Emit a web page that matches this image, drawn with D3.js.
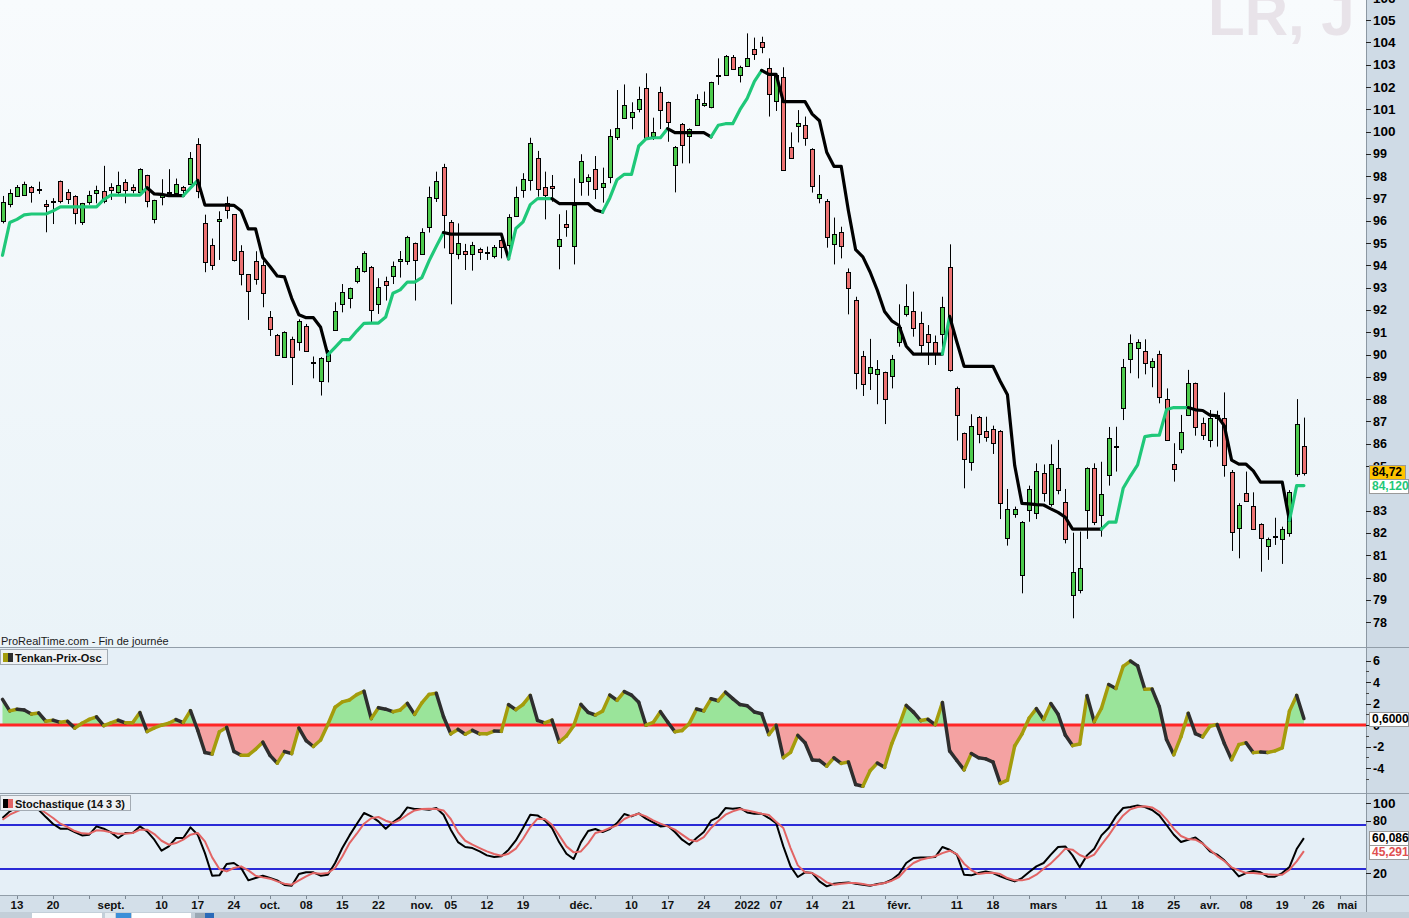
<!DOCTYPE html>
<html>
<head>
<meta charset="utf-8">
<script src="https://cdn.jsdelivr.net/npm/d3@7"></script>
<style>
  body { margin: 0; background: #cfdbe6; }
  svg { display: block; font-family: Arial, "Liberation Sans", sans-serif; }
</style>
</head>
<body>
<svg id="chart" width="1409" height="918"></svg>
<script>
// LR daily, 11 Aug 2021 -> 22 Apr 2022 (one value per trading day)
const openP = [95.99,96.75,97.11,97.14,97.53,97.40,96.75,96.86,97.77,97.29,
  97.11,95.93,96.83,97.23,97.35,97.50,97.26,97.72,97.50,97.27,
  98.04,96.06,97.05,97.26,97.23,97.50,97.63,99.43,95.88,94.90,
  95.97,96.81,96.29,94.66,93.60,94.18,94.02,91.67,90.86,89.91,
  90.68,90.55,91.30,89.63,88.81,89.71,91.10,92.30,92.57,93.30,
  93.73,93.94,92.27,93.31,93.54,94.20,94.20,94.99,94.54,95.70,
  97.05,98.40,95.96,94.51,94.66,94.49,94.73,94.56,94.42,95.14,
  94.91,96.21,97.38,97.83,98.83,97.53,97.54,94.87,95.87,94.87,
  97.75,97.75,98.30,97.50,97.98,99.72,100.59,100.64,100.99,101.94,
  99.77,101.76,101.31,98.53,100.35,99.80,100.29,101.16,101.08,102.52,
  102.56,103.36,102.53,102.94,103.68,104.03,102.83,101.38,102.46,99.29,
  100.22,100.29,99.20,97.00,96.88,94.94,95.51,93.71,92.44,89.93,
  89.19,89.11,89.20,89.04,90.53,91.82,91.97,91.40,90.92,90.58,
  90.90,93.91,88.48,86.47,85.20,87.18,86.58,86.64,86.58,81.76,
  82.83,80.11,83.00,82.92,84.67,83.28,84.90,83.40,79.21,79.44,
  83.00,84.90,82.80,84.60,85.86,87.59,89.78,90.28,90.17,89.43,
  90.01,87.99,85.07,85.76,87.26,88.71,86.91,86.17,87.17,87.17,
  84.72,82.21,83.77,83.22,82.39,81.41,81.85,81.73,82.03,84.63,
  85.91];

const highP = [97.11,97.41,97.60,97.75,97.56,97.75,96.93,97.01,97.80,97.41,
  97.14,96.80,97.34,97.57,98.46,97.68,98.20,97.86,97.63,98.35,
  98.06,96.94,97.86,98.31,97.89,97.56,99.08,99.70,96.27,95.20,
  96.42,97.08,96.30,94.90,93.61,94.63,94.21,91.95,90.92,91.04,
  90.80,91.58,91.37,89.91,89.88,90.20,92.34,93.16,93.00,93.97,
  94.63,93.97,93.42,93.49,94.17,94.64,95.32,95.02,95.66,97.53,
  98.20,98.55,96.03,95.88,94.96,95.05,94.79,94.84,94.91,95.21,
  96.29,97.53,98.13,99.72,99.13,98.20,98.05,96.29,96.47,97.90,
  98.98,98.08,98.90,98.38,100.10,101.86,102.11,101.31,102.01,102.61,
  100.62,102.01,101.34,99.35,100.38,100.14,101.67,101.79,102.23,103.28,
  103.43,103.43,102.95,104.40,104.21,104.25,103.28,102.58,102.88,99.96,
  100.96,100.67,99.25,98.05,96.97,96.14,95.73,93.86,92.59,90.16,
  90.70,89.75,89.23,89.98,92.25,93.15,92.82,91.92,91.32,90.85,
  92.59,94.94,88.56,86.50,87.32,87.24,87.21,86.81,86.61,83.97,
  83.18,82.53,84.12,85.12,85.07,85.97,86.17,83.97,82.01,82.06,
  84.94,85.12,85.19,86.75,86.76,89.80,90.90,90.68,90.68,89.83,
  90.17,88.48,86.02,87.29,89.31,88.74,87.17,87.51,87.48,88.30,
  84.82,83.33,84.75,83.82,82.43,81.79,82.68,82.28,83.92,88.00,
  87.17];

const lowP = [95.88,96.60,97.08,97.11,96.81,97.20,95.48,95.85,96.78,96.75,
  95.84,95.81,96.72,96.78,96.78,96.93,97.20,96.78,97.23,97.23,
  96.60,95.88,96.69,97.20,97.11,97.11,97.60,97.01,93.69,93.79,
  94.24,96.09,94.17,93.10,91.55,93.13,92.12,90.83,89.94,89.85,
  88.63,90.17,90.17,88.93,88.16,88.75,91.07,91.89,92.07,93.19,
  93.67,91.37,91.82,92.42,93.16,93.45,94.02,92.42,94.51,95.47,
  96.84,94.76,92.25,94.27,93.79,93.76,94.24,94.24,94.31,94.31,
  94.31,96.18,97.03,97.35,97.08,96.06,96.85,93.82,95.28,94.04,
  97.12,97.12,96.97,96.81,97.68,99.62,100.56,100.10,100.86,99.62,
  99.62,100.11,99.54,97.27,98.57,98.57,100.25,101.11,101.04,102.09,
  102.50,102.76,102.20,102.91,103.21,103.51,100.67,100.92,98.27,98.77,
  99.51,99.36,97.26,96.78,94.79,94.04,94.31,91.80,88.44,88.14,
  88.41,87.77,86.88,88.48,90.35,91.70,90.80,90.05,89.53,89.53,
  90.28,89.23,86.14,84.00,84.79,86.02,86.09,85.54,82.62,81.43,
  82.68,79.29,82.50,82.62,83.40,83.18,83.73,81.53,78.17,79.29,
  81.73,82.35,81.83,84.12,84.75,87.06,89.16,88.93,89.11,88.53,
  87.81,86.14,84.30,85.57,87.24,86.36,86.17,85.84,85.87,84.52,
  81.19,80.86,83.40,82.17,80.26,80.79,81.46,80.61,81.83,84.52,
  84.57];

const closeP = [96.83,97.23,97.53,97.65,97.32,97.42,96.65,96.88,96.87,96.96,
  96.33,96.78,97.14,97.38,96.90,97.35,97.59,97.35,97.35,98.31,
  96.87,96.93,97.16,97.28,97.63,97.35,98.80,97.32,94.14,94.00,
  96.06,96.48,94.24,93.64,92.82,93.37,92.75,91.13,89.97,91.01,
  89.86,91.49,90.20,89.65,89.83,90.03,91.97,92.82,93.00,93.87,
  94.54,92.00,93.02,93.15,93.99,94.29,95.26,94.24,95.51,97.05,
  97.80,96.24,94.58,94.99,94.54,94.90,94.58,94.58,94.84,94.81,
  96.18,97.08,97.86,99.47,97.42,97.18,97.45,95.17,95.75,96.70,
  98.68,97.94,97.41,97.68,99.80,100.14,101.19,100.86,101.46,99.65,
  99.96,100.96,100.41,99.32,99.43,100.10,101.44,101.26,102.20,102.54,
  103.40,102.80,102.88,103.28,103.46,103.79,101.67,102.53,98.30,98.80,
  100.37,99.69,97.53,97.18,95.25,95.39,94.87,93.01,89.16,88.68,
  89.45,89.34,87.99,89.78,91.22,92.19,91.22,90.43,90.55,90.05,
  92.12,89.30,87.26,85.30,86.81,86.42,86.32,86.02,83.37,83.06,
  83.07,82.47,83.95,84.79,83.77,85.07,83.92,81.76,80.26,80.41,
  84.90,82.47,83.73,86.24,85.88,89.45,90.50,90.55,89.65,89.71,
  88.08,86.17,84.85,86.54,88.71,86.72,86.39,87.17,87.29,85.07,
  82.03,83.25,83.43,82.21,81.76,81.73,81.87,82.16,83.85,86.87,
  84.72];

const tenkan = [94.45,95.92,96.06,96.26,96.30,96.30,96.30,96.44,96.62,96.62,
  96.62,96.62,96.62,96.62,96.95,97.15,97.15,97.15,97.15,97.15,
  97.48,97.20,97.18,97.12,97.12,97.12,97.47,97.81,96.70,96.70,
  96.70,96.70,96.69,96.45,95.63,95.63,94.35,93.95,93.52,93.48,
  92.52,91.78,91.65,91.65,91.22,89.98,90.32,90.67,90.67,91.05,
  91.40,91.41,91.41,91.68,92.75,92.90,93.25,93.25,93.45,94.20,
  94.85,95.47,95.40,95.40,95.40,95.40,95.40,95.40,95.40,95.40,
  94.29,95.65,95.95,96.72,96.99,96.99,96.99,96.77,96.77,96.77,
  96.77,96.77,96.48,96.39,97.02,97.84,98.08,98.08,99.35,99.67,
  99.72,99.72,100.13,99.95,99.95,99.95,99.95,99.95,99.76,100.28,
  100.35,100.35,100.98,101.49,102.25,102.74,102.56,102.56,101.34,101.34,
  101.34,101.34,100.78,100.48,99.07,98.44,98.44,96.45,94.70,94.38,
  93.70,92.88,91.93,91.51,91.30,90.37,90.02,90.02,90.02,90.02,
  90.02,91.71,90.56,89.47,89.47,89.47,89.47,89.47,88.80,88.19,
  85.02,83.32,83.30,83.27,83.25,83.08,82.92,82.70,82.17,82.17,
  82.17,82.17,82.17,82.48,82.48,84.00,84.55,85.05,86.32,86.37,
  86.38,87.53,87.62,87.62,87.62,87.52,87.49,87.28,87.25,86.80,
  85.26,85.08,85.08,84.78,84.28,84.28,84.28,84.28,82.56,84.12,
  84.12];

const stochK = [82.9,90.5,95,97,97,92.4,84.0,76.1,70.8,70.8,
  67.0,63.2,64.0,73.4,70.8,66.6,60.2,65.9,65.9,73.4,
  67.8,58.3,45.8,50.7,60.2,60.2,72.3,64.0,43.1,17.4,
  17.8,30.6,31.8,26.1,12.1,14.7,17.4,14.7,12.1,6.8,
  6.0,19.3,21.2,21.2,17.4,18.5,31.8,48.8,63.2,76.1,
  88.6,84.8,79.1,70.8,78.0,84.0,95.0,93.1,93.1,92.4,
  94.3,86.7,69.7,55.6,50.0,48.8,45.0,40.5,38.6,39.4,
  46.9,57.5,71.6,86.7,85.9,80.3,71.6,55.3,42.4,36.3,
  55.3,68.1,70.4,67.0,70.4,77.2,87.5,84.8,88.2,82.2,
  78.0,73.4,74.2,67.0,58.3,52.6,60.2,67.0,79.9,84.0,
  94.3,93.5,94.3,89.3,87.8,87.8,82.9,77.2,50.7,28.0,
  15.9,21.2,20.4,10.9,5.3,8.3,9.1,9.8,8.3,7.2,
  6.0,7.9,9.1,12.8,19.3,31.8,37.5,38.2,38.2,38.5,
  50.0,46.9,41.3,18.5,17.8,20.4,22.3,20.4,16.6,13.6,
  10.9,14.7,21.6,28.0,31.8,41.3,50.0,50.7,40.5,26.9,
  40.5,48.1,63.2,71.6,84.8,94.3,95.4,97.3,95.4,92.0,
  86.0,75.0,63.9,55.6,58.3,60.9,54.1,45.0,41.3,34.8,
  26.1,16.6,20.4,22.7,21.2,16.3,16.3,20.4,27.2,47.7,
  60.086];

const stochD = [81.0,86.7,90.5,94,96,94,88.6,83.0,76.5,72.7,
  68.1,65.5,65.1,68.9,68.5,66.6,65.1,65.1,65.9,69.7,
  69.7,64.7,57.1,52.6,54.5,58.3,64.0,65.9,56.4,38.2,
  25.0,22.3,26.1,28.0,23.4,17.4,15.5,14.0,10.9,8.3,
  7.2,12.1,16.6,20.5,19.7,20.5,26.1,39.3,54.5,65.1,
  76.5,82.6,84.1,79.9,77.2,81.0,86.7,91.6,93.1,93.5,
  93.1,91.6,81.8,67.0,57.1,52.6,48.8,45.0,42.0,40.1,
  42.4,48.1,59.4,72.7,82.2,81.8,75.3,63.2,50.7,43.9,
  45.0,54.1,65.9,68.1,71.6,74.6,81.8,85.6,87.8,84.8,
  80.3,76.5,73.4,69.7,64.0,58.3,56.4,61.3,71.6,79.5,
  86.7,90.5,93.1,91.6,89.7,87.8,86.3,78.7,71.6,48.8,
  29.1,21.2,20.4,15.9,9.8,7.2,8.3,9.1,9.1,7.9,
  6.4,7.5,9.1,11.7,15.9,25.0,31.8,35.5,37.6,39.5,
  43.0,45.8,42.0,31.0,23.8,19.3,20.4,20.8,19.3,14.7,
  12.1,12.1,14.0,18.5,25.3,31.4,39.4,48.1,47.0,40.9,
  37.5,41.3,52.6,63.2,75.3,85.9,92.8,95.4,96.2,95.0,
  90.0,81.4,70.8,62.5,59.0,58.3,53.7,46.9,39.7,34.1,
  26.9,23.4,20.4,20.4,19.7,18.9,18.5,18.5,24.2,33.7,
  45.291];

// calendar: first trading day and market holidays
const firstDay = "2021-08-11";
const holidays = ["2022-04-15", "2022-04-18"];

const xTicks = [["2021-08-13","13"],["2021-08-20","20"],["2021-09-01","sept."],["2021-09-10","10"],
  ["2021-09-17","17"],["2021-09-24","24"],["2021-10-01","oct."],["2021-10-08","08"],["2021-10-15","15"],
  ["2021-10-22","22"],["2021-11-01","nov."],["2021-11-05","05"],["2021-11-12","12"],["2021-11-19","19"],
  ["2021-12-01","déc."],["2021-12-10","10"],["2021-12-17","17"],["2021-12-24","24"],["2022-01-03","2022"],
  ["2022-01-07","07"],["2022-01-14","14"],["2022-01-21","21"],["2022-02-01","févr."],["2022-02-11","11"],
  ["2022-02-18","18"],["2022-03-01","mars"],["2022-03-11","11"],["2022-03-18","18"],["2022-03-25","25"],
  ["2022-04-01","avr."],["2022-04-08","08"],["2022-04-19","19"],["2022-04-26","26"],["2022-05-02","mai"]];

// 84 sits under the last-value boxes in the original, so it is not printed
const priceTicks = [78,79,80,81,82,83,85,86,87,88,89,90,91,92,93,94,95,96,97,98,99,100,101,102,103,104,105,106];
const oscTicks = [-4,-2,0,2,4,6];
const oscMinor = [-5,-3,-1,1,3,5];
const stochTicks = [20,80,100];
const stochLevels = [25,75];

const lastClose = "84,72", lastTenkan = "84,120", lastOsc = "0,6000";
const lastK = "60,086", lastD = "45,291";

/////////////////////////

const parse = d3.timeParse("%Y-%m-%d");
const fmt = d3.timeFormat("%Y-%m-%d");

// trading days (weekdays minus holidays), a bit past the last bar for the axis
const dates = [];
for (let d = parse(firstDay); dates.length < 192; d = d3.timeDay.offset(d, 1)) {
  const wd = d.getDay();
  if (wd === 0 || wd === 6 || holidays.includes(fmt(d))) continue;
  dates.push(fmt(d));
}

const n = closeP.length;
const idx = d3.range(n);
const osc = idx.map(i => closeP[i] - tenkan[i]);

const PR = 1366;                 // right edge of the plotting area
const price = { top: 0, bottom: 647 };
const oscP = { top: 648, bottom: 793 };
const sto = { top: 794, bottom: 895 };

const x = d3.scaleLinear().domain([0, 180]).range([2.5, 1303.9]);
const yP = d3.scaleLinear().domain([78, 105]).range([622.1, 20]);
const yO = d3.scaleLinear().domain([-4, 6]).range([768, 660.5]);
const yS = d3.scaleLinear().domain([0, 100]).range([891, 803]);

const svg = d3.select("#chart");
const defs = svg.append("defs");

const grad = defs.append("linearGradient").attr("id", "pbg")
  .attr("x1", 0).attr("y1", 0).attr("x2", 0).attr("y2", 1);
grad.append("stop").attr("offset", "0%").attr("stop-color", "#f8fbfd");
grad.append("stop").attr("offset", "100%").attr("stop-color", "#eaf3f8");

function addClip(id, y0, y1) {
  defs.append("clipPath").attr("id", id)
    .append("rect").attr("x", 0).attr("y", y0).attr("width", PR).attr("height", y1 - y0);
}
addClip("clipPrice", price.top, price.bottom);
addClip("clipOsc", oscP.top, oscP.bottom);
addClip("clipSto", sto.top, sto.bottom);
addClip("clipOscPos", oscP.top, yO(0));
addClip("clipOscNeg", yO(0), oscP.bottom);

// backgrounds
svg.append("rect").attr("width", 1409).attr("height", 918).attr("fill", "#cfdbe6");
svg.append("rect").attr("x", 0).attr("y", price.top).attr("width", PR).attr("height", price.bottom - price.top).attr("fill", "url(#pbg)");
svg.append("rect").attr("x", 0).attr("y", oscP.top).attr("width", PR).attr("height", oscP.bottom - oscP.top).attr("fill", "#e5eff7");
svg.append("rect").attr("x", 0).attr("y", sto.top).attr("width", PR).attr("height", sto.bottom - sto.top).attr("fill", "#e5eff7");
svg.append("rect").attr("x", 0).attr("y", 896).attr("width", 1409).attr("height", 16).attr("fill", "#d3dfe9");
svg.append("rect").attr("x", 0).attr("y", 912).attr("width", 1409).attr("height", 6).attr("fill", "#c3cfd9");
[[32, 70, "#ffffff"], [105, 10, "#e8eef2"], [116, 15, "#3c8fd8"], [132, 59, "#ffffff"], [195, 10, "#9aa8b4"], [205, 9, "#2a6ab8"]]
  .forEach(([bx, bw, bc]) => svg.append("rect").attr("x", bx).attr("y", 913).attr("width", bw).attr("height", 5).attr("fill", bc));

// watermark
svg.append("text").attr("x", 1208).attr("y", 35)
  .attr("font-size", 60).attr("font-weight", "bold").attr("fill", "#e8e3e9")
  .text("LR, J");

/////////////////////////
// price panel: candles + tenkan

const gPrice = svg.append("g").attr("clip-path", "url(#clipPrice)");
const cx = i => Math.round(x(i)) + 0.5;

gPrice.selectAll(".wick").data(idx).enter().append("line")
  .attr("class", "wick")
  .attr("x1", cx).attr("x2", cx)
  .attr("y1", i => yP(highP[i])).attr("y2", i => yP(lowP[i]))
  .attr("stroke", "#000").attr("stroke-width", 1);

gPrice.selectAll(".body").data(idx).enter().append("rect")
  .attr("class", "body")
  .attr("x", i => cx(i) - 2)
  .attr("width", 4)
  .attr("y", i => Math.round(yP(Math.max(openP[i], closeP[i]))) + 0.5)
  .attr("height", i => Math.max(1, Math.round(Math.abs(yP(openP[i]) - yP(closeP[i])))))
  .attr("fill", i => {
    if (Math.abs(openP[i] - closeP[i]) < 0.05) return "#000";
    return closeP[i] > openP[i] ? "#4dcb4d" : "#ec7272";
  })
  .attr("stroke", "#000").attr("stroke-width", 1);

// tenkan: green while it climbs, black while it falls (flat keeps the last colour)
const tkColor = [];
let cur = "#1fc879";
for (let i = 1; i < n; i++) {
  if (tenkan[i] > tenkan[i - 1]) cur = "#1fc879";
  else if (tenkan[i] < tenkan[i - 1]) cur = "#000000";
  tkColor[i] = cur;
}
const runs = [];
for (let i = 1; i < n; i++) {
  const last = runs[runs.length - 1];
  if (last && last.color === tkColor[i]) last.pts.push(i);
  else runs.push({ color: tkColor[i], pts: [i - 1, i] });
}
const tkLine = d3.line().x(i => x(i)).y(i => yP(tenkan[i]));
gPrice.selectAll(".tenkan").data(runs).enter().append("path")
  .attr("class", "tenkan")
  .attr("d", r => tkLine(r.pts))
  .attr("fill", "none")
  .attr("stroke", r => r.color)
  .attr("stroke-width", 3.2)
  .attr("stroke-linejoin", "round")
  .attr("stroke-linecap", "round");

svg.append("text").attr("x", 1).attr("y", 645)
  .attr("font-size", 11).attr("fill", "#1a1a1a")
  .text("ProRealTime.com - Fin de journée");

/////////////////////////
// oscillator panel

const gOsc = svg.append("g").attr("clip-path", "url(#clipOsc)");
const oscArea = d3.area().x(i => x(i)).y0(yO(0)).y1(i => yO(osc[i]));
gOsc.append("g").attr("clip-path", "url(#clipOscPos)")
  .append("path").attr("d", oscArea(idx)).attr("fill", "#9ae49a");
gOsc.append("g").attr("clip-path", "url(#clipOscNeg)")
  .append("path").attr("d", oscArea(idx)).attr("fill", "#f4a2a2");

gOsc.append("line")
  .attr("x1", 0).attr("x2", PR)
  .attr("y1", yO(0)).attr("y2", yO(0))
  .attr("stroke", "#ff2626").attr("stroke-width", 3);

const oscSegs = idx.slice(1);
gOsc.selectAll(".oscseg").data(oscSegs).enter().append("line")
  .attr("class", "oscseg")
  .attr("x1", i => x(i - 1)).attr("y1", i => yO(osc[i - 1]))
  .attr("x2", i => x(i)).attr("y2", i => yO(osc[i]))
  .attr("stroke", i => osc[i] >= osc[i - 1] ? "#a49c0c" : "#2e2e2e")
  .attr("stroke-width", 3.5)
  .attr("stroke-linecap", "round");

/////////////////////////
// stochastic panel

const gSto = svg.append("g").attr("clip-path", "url(#clipSto)");
stochLevels.forEach(v => {
  gSto.append("line")
    .attr("x1", 0).attr("x2", PR)
    .attr("y1", yS(v)).attr("y2", yS(v))
    .attr("stroke", "#2a2ad6").attr("stroke-width", 2.2);
});
const kLine = d3.line().x(i => x(i)).y(i => yS(stochK[i]));
const dLine = d3.line().x(i => x(i)).y(i => yS(stochD[i]));
gSto.append("path").attr("d", kLine(idx)).attr("fill", "none")
  .attr("stroke", "#000").attr("stroke-width", 2).attr("stroke-linejoin", "round");
gSto.append("path").attr("d", dLine(idx)).attr("fill", "none")
  .attr("stroke", "#e26464").attr("stroke-width", 2).attr("stroke-linejoin", "round");

/////////////////////////
// separators

[647.5, 793.5, 895.5].forEach(yy => {
  svg.append("line").attr("x1", 0).attr("x2", 1409).attr("y1", yy).attr("y2", yy)
    .attr("stroke", "#929ea9").attr("stroke-width", 1);
});
svg.append("line").attr("x1", PR + 0.5).attr("x2", PR + 0.5).attr("y1", 0).attr("y2", 912)
  .attr("stroke", "#8c98a3").attr("stroke-width", 1);

// legend boxes
function legendBox(y0, w, label, c1, c2) {
  const g = svg.append("g");
  g.append("rect").attr("x", 0.5).attr("y", y0 + 0.5).attr("width", w).attr("height", 15)
    .attr("fill", "#eef1f4").attr("stroke", "#a3abb3");
  g.append("rect").attr("x", 3).attr("y", y0 + 4).attr("width", 5).attr("height", 9).attr("fill", c1);
  g.append("rect").attr("x", 8).attr("y", y0 + 4).attr("width", 5).attr("height", 9).attr("fill", c2);
  g.append("text").attr("x", 15).attr("y", y0 + 12.5)
    .attr("font-size", 11).attr("font-weight", "bold").attr("fill", "#111").text(label);
}
legendBox(649, 107, "Tenkan-Prix-Osc", "#a49c0c", "#2e2e2e");
legendBox(795, 130, "Stochastique (14 3 3)", "#000000", "#e26464");

/////////////////////////
// right axes

const gAxis = svg.append("g");
function axisLabels(ticks, scale, sizeFn) {
  ticks.forEach(v => {
    gAxis.append("line").attr("x1", PR).attr("x2", PR + 5)
      .attr("y1", Math.round(scale(v)) + 0.5).attr("y2", Math.round(scale(v)) + 0.5)
      .attr("stroke", "#222");
    gAxis.append("text").attr("x", PR + 7).attr("y", scale(v))
      .attr("dy", "0.36em")
      .attr("font-size", sizeFn ? sizeFn(v) : 12.5)
      .attr("font-weight", "bold").attr("fill", "#000")
      .text(String(v));
  });
}
axisLabels(priceTicks, yP, v => v >= 100 ? 13.5 : 12.5);
axisLabels(oscTicks, yO);
oscMinor.forEach(v => {
  gAxis.append("line").attr("x1", PR).attr("x2", PR + 3)
    .attr("y1", Math.round(yO(v)) + 0.5).attr("y2", Math.round(yO(v)) + 0.5).attr("stroke", "#444");
});
axisLabels(stochTicks, yS, v => v === 100 ? 13.5 : 12.5);

function valueBox(yc, label, fill, color, w) {
  gAxis.append("rect").attr("x", PR + 3.5).attr("y", Math.round(yc - 7) + 0.5)
    .attr("width", w).attr("height", 14)
    .attr("fill", fill).attr("stroke", "#9a9a9a");
  gAxis.append("text").attr("x", PR + 6).attr("y", yc).attr("dy", "0.36em")
    .attr("font-size", 12).attr("font-weight", "bold").attr("fill", color).text(label);
}
valueBox(yP(84.12) + 0.5, lastTenkan, "#ffffff", "#1fc879", 39);
valueBox(yP(84.72) - 0.5, lastClose, "#ffc400", "#000", 36);
valueBox(yO(0.6), lastOsc, "#ffffff", "#000", 39);
valueBox(yS(60.086), lastK, "#ffffff", "#000", 39);
valueBox(yS(45.291) + 1, lastD, "#ffffff", "#e05050", 39);

/////////////////////////
// date axis

const gX = svg.append("g");
dates.forEach((d, i) => {
  if (parse(d).getDay() === 5 && x(i) < PR) {
    gX.append("line").attr("x1", Math.round(x(i)) + 0.5).attr("x2", Math.round(x(i)) + 0.5)
      .attr("y1", 896).attr("y2", 899).attr("stroke", "#7c8894");
  }
});
xTicks.forEach(([d, label]) => {
  const i = dates.indexOf(d);
  if (i < 0) return;
  gX.append("text").attr("x", x(i)).attr("y", 909)
    .attr("text-anchor", "middle")
    .attr("font-size", 11.5).attr("font-weight", "bold").attr("fill", "#111")
    .text(label);
});
</script>
</body>
</html>
